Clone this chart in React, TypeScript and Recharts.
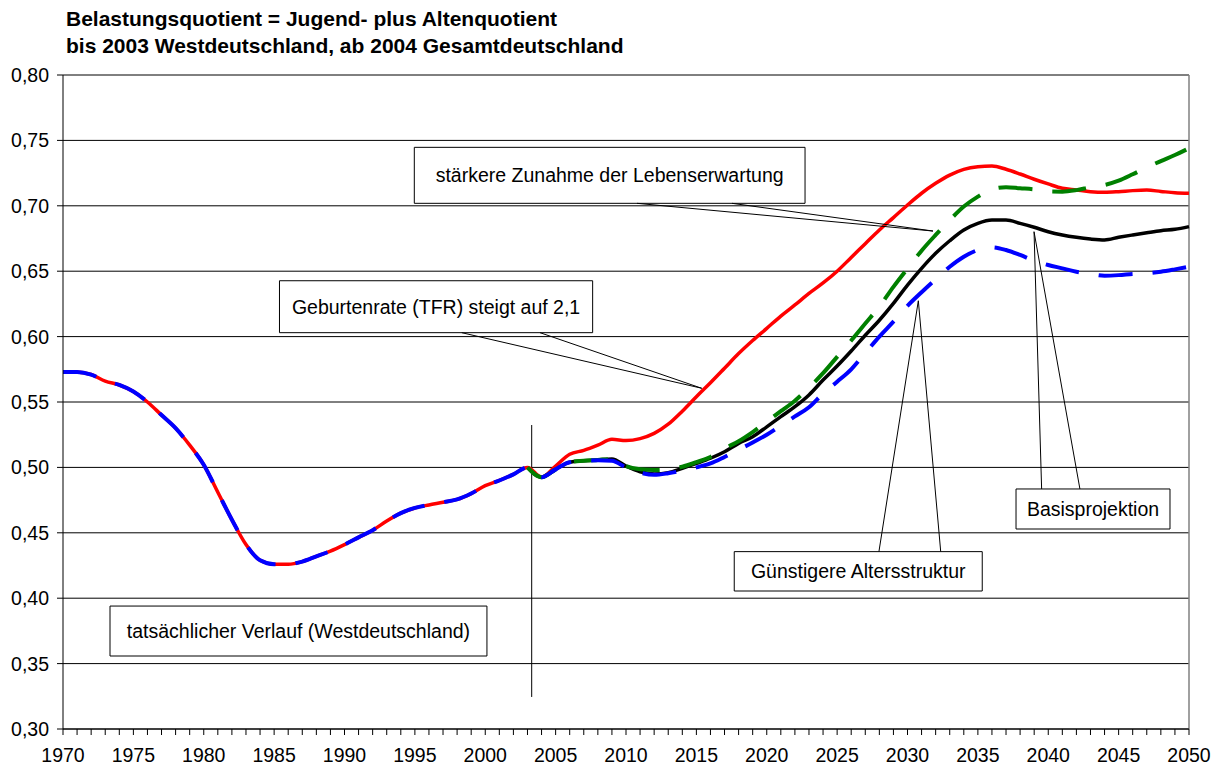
import { CartesianGrid, Line, LineChart, ReferenceArea, ReferenceLine, XAxis, YAxis } from 'recharts'

const FONT = '"Liberation Sans", Arial, sans-serif'

const firstYear = 1970
const lastYear = 2050
const years = Array.from({ length: lastYear - firstYear + 1 }, (_, i) => firstYear + i)
const yTicks = [0.3, 0.35, 0.4, 0.45, 0.5, 0.55, 0.6, 0.65, 0.7, 0.75, 0.8]

// 1970-2003, West Germany (shared by all scenarios)
const historical = [
  0.573, 0.573, 0.571, 0.566, 0.563, 0.558, 0.55, 0.54, 0.53, 0.517,
  0.502, 0.481, 0.46, 0.441, 0.429, 0.426, 0.426, 0.428, 0.432, 0.436,
  0.441, 0.4465, 0.452, 0.459, 0.465, 0.469, 0.4713, 0.4733, 0.4755, 0.48,
  0.486, 0.49, 0.4947, 0.5,
]

// 2004-2050 projections
const basis = [
  0.4925, 0.4985, 0.504, 0.505, 0.5057, 0.5064, 0.501, 0.4967, 0.495, 0.496,
  0.4993, 0.503, 0.507, 0.512, 0.5184, 0.5235, 0.531, 0.5388, 0.5464, 0.5554,
  0.5668, 0.5775, 0.589, 0.601, 0.6125, 0.6254, 0.6394, 0.6522, 0.6637, 0.6733,
  0.6815, 0.6866, 0.6891, 0.6891, 0.6866, 0.6836, 0.6802, 0.6777, 0.6759, 0.6746,
  0.6739, 0.6759, 0.6777, 0.6794, 0.681, 0.682, 0.6841,
]
const geburtenrate = [
  0.4925, 0.501, 0.51, 0.513, 0.517, 0.5215, 0.5205, 0.522, 0.526, 0.533,
  0.543, 0.554, 0.5647, 0.5758, 0.587, 0.597, 0.6063, 0.6157, 0.6242, 0.633,
  0.641, 0.65, 0.6605, 0.671, 0.6815, 0.691, 0.7006, 0.7096, 0.7172, 0.7235,
  0.7279, 0.7299, 0.7304, 0.7279, 0.7243, 0.7203, 0.7167, 0.7134, 0.7121, 0.7108,
  0.7103, 0.7108, 0.7116, 0.712, 0.711, 0.71, 0.7096,
]
const lebenserwartung = [
  0.4925, 0.4985, 0.504, 0.505, 0.5057, 0.5064, 0.501, 0.4985, 0.498, 0.4985,
  0.5005, 0.504, 0.508, 0.5145, 0.52, 0.527, 0.535, 0.543, 0.551, 0.561,
  0.572, 0.5845, 0.597, 0.61, 0.623, 0.638, 0.652, 0.6657, 0.6777, 0.689,
  0.6994, 0.707, 0.7126, 0.7142, 0.7134, 0.7126, 0.711, 0.7108, 0.712, 0.7142,
  0.7159, 0.7192, 0.7241, 0.7294, 0.7342, 0.7388, 0.744,
]
const altersstruktur = [
  0.4925, 0.4985, 0.504, 0.505, 0.5055, 0.505, 0.5, 0.496, 0.4943, 0.4955,
  0.4975, 0.5, 0.503, 0.508, 0.5135, 0.519, 0.525, 0.532, 0.539, 0.546,
  0.5565, 0.5655, 0.575, 0.5875, 0.6, 0.6114, 0.6235, 0.6339, 0.6438, 0.6534,
  0.6611, 0.6662, 0.6683, 0.6662, 0.6624, 0.658, 0.6547, 0.6522, 0.6496, 0.6479,
  0.6466, 0.647, 0.6479, 0.6484, 0.6496, 0.6514, 0.6534,
]

const lastHistYear = firstYear + historical.length - 1

const data = years.map((year, i) => {
  const h = i < historical.length ? historical[i] : null
  const p = i - historical.length
  return {
    year,
    geburtenrate: h ?? geburtenrate[p],
    altersstruktur: h ?? altersstruktur[p],
    basis: year < lastHistYear ? null : h ?? basis[p],
    lebenserwartung: year < lastHistYear ? null : h ?? lebenserwartung[p],
  }
})

// callout boxes in data coordinates
const callouts = [
  { text: 'stärkere Zunahme der Lebenserwartung', x1: 1994.96, x2: 2022.72, y1: 0.7019, y2: 0.7447, base: [2010.78, 2017.53], tip: [2031.81, 0.6807] },
  { text: 'Geburtenrate (TFR) steigt auf 2,1', x1: 1985.38, x2: 2007.63, y1: 0.603, y2: 0.6427, base: [1998.33, 2003.89], tip: [2015.38, 0.5605] },
  { text: 'tatsächlicher Verlauf (Westdeutschland)', x1: 1973.34, x2: 2000.12, y1: 0.3558, y2: 0.394 },
  { text: 'Günstigere Altersstruktur', x1: 2017.69, x2: 2035.31, y1: 0.4055, y2: 0.4356, base: [2027.97, 2032.36], tip: [2030.77, 0.6274] },
  { text: 'Basisprojektion', x1: 2037.71, x2: 2048.65, y1: 0.4529, y2: 0.4835, base: [2039.53, 2042.25], tip: [2038.99, 0.6802] },
]

const fmt = (v: number) => v.toFixed(2).replace('.', ',')

export default function App() {
  return (
    <div style={{ position: 'absolute', left: 0, top: 0, width: 1221, height: 767, background: '#fff', fontFamily: FONT }}>
      <div style={{ position: 'absolute', left: 66, top: 5, fontSize: 21, lineHeight: '27px', fontWeight: 'bold', color: '#000' }}>
        <div>Belastungsquotient = Jugend- plus Altenquotient</div>
        <div>bis 2003 Westdeutschland, ab 2004 Gesamtdeutschland</div>
      </div>
      <LineChart width={1221} height={767} data={data} margin={{ top: 75, right: 32, bottom: 0, left: 0 }}>
        <CartesianGrid vertical={false} stroke="#000" strokeWidth={1} />
        <XAxis
          dataKey="year"
          type="number"
          domain={[firstYear, lastYear]}
          ticks={years}
          interval={0}
          height={38}
          axisLine={{ stroke: '#000' }}
          tickLine={{ stroke: '#000' }}
          tickSize={6}
          tickMargin={13}
          tick={{ fill: '#000', fontSize: 19.5, fontFamily: FONT }}
          tickFormatter={(v: number) => (v % 5 === 0 ? String(v) : '')}
        />
        <YAxis
          type="number"
          domain={[0.3, 0.8]}
          ticks={yTicks}
          width={63}
          axisLine={{ stroke: '#000' }}
          tickLine={{ stroke: '#000' }}
          tickSize={6}
          tickMargin={8}
          tick={{ fill: '#000', fontSize: 19.5, fontFamily: FONT }}
          tickFormatter={fmt}
        />
        <ReferenceLine x={lastYear} stroke="#808080" strokeWidth={1.5} />
        <ReferenceLine segment={[{ x: 2003.3, y: 0.5324 }, { x: 2003.3, y: 0.3245 }]} stroke="#000" strokeWidth={1} />
        <Line dataKey="basis" stroke="#000" strokeWidth={3.5} dot={false} type="monotone" isAnimationActive={false} connectNulls={false} />
        <Line dataKey="geburtenrate" stroke="#ff0000" strokeWidth={3.5} dot={false} type="monotone" isAnimationActive={false} />
        <Line dataKey="lebenserwartung" stroke="#008000" strokeWidth={4} strokeDasharray="34 20" dot={false} type="monotone" isAnimationActive={false} />
        <Line dataKey="altersstruktur" stroke="#0000ff" strokeWidth={4} strokeDasharray="34 20" dot={false} type="monotone" isAnimationActive={false} />
        {callouts.map((c) => (
          <ReferenceArea
            key={c.text}
            x1={c.x1}
            x2={c.x2}
            y1={c.y1}
            y2={c.y2}
            fill="#fff"
            fillOpacity={1}
            stroke="#000"
            strokeWidth={1}
            label={{ value: c.text, position: 'center', fill: '#000', fontSize: 19.5, fontFamily: FONT }}
          />
        ))}
        {callouts
          .filter((c) => c.tip)
          .flatMap((c) => {
            const by = c.tip![1] < c.y1 ? c.y1 : c.y2
            return c.base!.map((bx, j) => (
              <ReferenceLine
                key={c.text + j}
                segment={[{ x: bx, y: by }, { x: c.tip![0], y: c.tip![1] }]}
                stroke="#000"
                strokeWidth={1}
              />
            ))
          })}
      </LineChart>
    </div>
  )
}
